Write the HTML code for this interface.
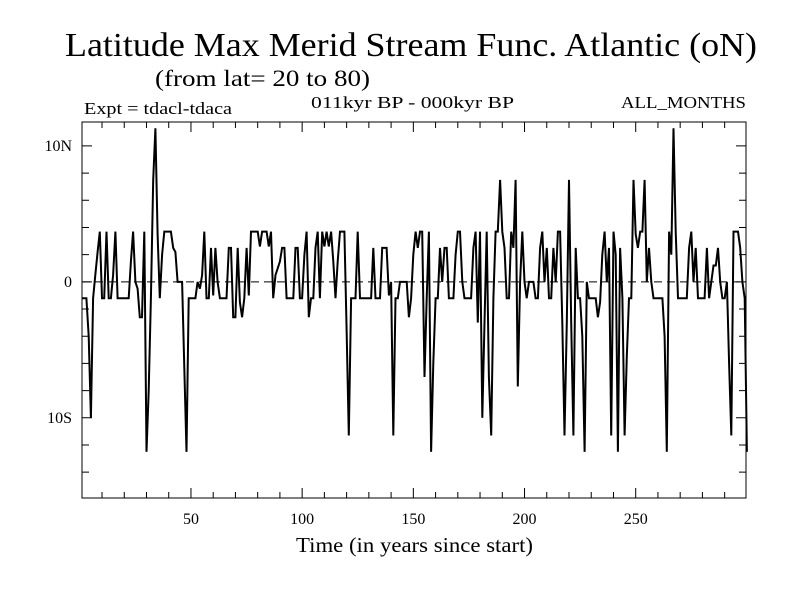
<!DOCTYPE html>
<html><head><meta charset="utf-8"><style>
body{margin:0;background:#fff}
svg text{font-family:"Liberation Serif",serif;fill:#000}
</style></head><body>
<svg width="800" height="600" viewBox="0 0 800 600" id="svg">
<text x="65" y="56" font-size="34" textLength="692" lengthAdjust="spacingAndGlyphs">Latitude Max Merid Stream Func. Atlantic (oN)</text>
<text x="155" y="86" font-size="23" textLength="215" lengthAdjust="spacingAndGlyphs">(from lat= 20 to 80)</text>
<text x="84" y="114" font-size="17" textLength="148" lengthAdjust="spacingAndGlyphs">Expt = tdacl-tdaca</text>
<text x="311" y="108" font-size="17" textLength="203" lengthAdjust="spacingAndGlyphs">011kyr BP - 000kyr BP</text>
<text x="621" y="108" font-size="17" textLength="125" lengthAdjust="spacingAndGlyphs">ALL_MONTHS</text>
<text x="296" y="552" font-size="21" textLength="237" lengthAdjust="spacingAndGlyphs">Time (in years since start)</text>
<g id="axes"></g>
<g id="series"></g>
<rect x="82" y="122" width="664" height="376" fill="none" stroke="#000" stroke-width="1"/>
</svg>
<script>
const xTicks=[50,100,150,200,250];
const yTickVals=[10,0,-10];
const yTickLabels=["10N","0","10S"];
const values=[-1.2,-1.2,-1.2,-4,-10,-1.2,0.5,2.2,3.7,-1.2,-1.2,3.7,-1.2,-1.2,0.5,3.7,-1.2,-1.2,-1.2,-1.2,-1.2,-1.2,1.5,3.7,0,-0.5,-2.6,-2.6,3.7,-12.5,-8,-1.2,7.5,11.3,3.5,-1.2,2,3.7,3.7,3.7,3.7,2.5,2.2,0,0,0,-6.3,-12.5,-1.2,-1.2,-1.2,-1.2,0,-0.5,0.5,3.7,-1.2,-1.2,2.5,-1,2.5,0,-1.2,-1.2,-1.2,-1.2,2.5,2.5,-2.6,-2.6,2.5,-1.5,-2.6,-1.2,2.5,-1,
3.7,3.7,3.7,3.7,2.6,3.7,3.7,3.7,2.6,3.7,-1.2,0.5,1,1.5,2.5,2.5,-1.2,-1.2,-1.2,-1.2,2.5,2.5,-1.2,-1.2,2,3.7,-2.6,-1.2,-1.2,2.5,3.7,-1.2,3.7,2.6,3.7,2.6,3.7,1.5,-1.2,1.5,3.7,3.7,3.7,-3.5,-11.3,-1.2,-1.2,-1.2,3.7,-1.2,-1.2,-1.2,-1.2,-1.2,-1.2,2.5,-1.2,-1.2,-1.2,2.5,2.5,2.5,-1,0,-11.3,-1.2,-1.2,0,0,0,0,-2.6,-1.2,2,
3.7,2.5,3.7,3.7,-7,-1.2,3.7,-12.5,-6,-1.2,-1.2,2.5,0,2.5,2.5,-1.2,-1.2,-1.2,2,3.7,3.7,0,-1.2,-1.2,-1.2,-1.2,2.5,3.7,-3,3.7,-10,-3,3.7,-7,-11.3,-1.2,3.7,3.7,7.5,3.7,2.5,-1.2,-1.2,3.7,2.5,7.5,-7.7,0,3.7,0,-1.2,0,0,0,-1.2,-1.2,2.5,3.7,0,2.5,-1.2,-1.2,2.5,0,3.7,3.7,-3,-11.3,-3,7.5,-3,-11.3,2.5,-1.2,-1.2,
-4,-12.5,0,-1.2,-1.2,-1.2,-1.2,-2.6,-1.5,2,3.7,0,2.5,-11.3,3.7,2,-12.5,2.5,-1.2,-11.3,-5.5,-1.2,-1.2,7.5,3.5,2.5,3.7,3.7,7.5,0,2.5,0,-1.2,-1.2,-1.2,-1.2,-1.2,-4,-12.5,3.7,2,11.3,3.7,-1.2,-1.2,-1.2,-1.2,-1.2,2.5,3.7,0,2.5,-1.2,-1.2,-1.2,-1.2,2.5,-1.2,0,1.2,1.2,2.5,0,-1.2,-1.2,0,-6,-11.3,3.7,3.7,3.7,2.5,0,-1.2,-12.5];
const X0=82,X1=746,Y0=122,Y1=498,xMin=1,xMax=299.6,yMin=-15.9,yMax=11.76;
const sx=v=>X0+(v-xMin)/(xMax-xMin)*(X1-X0);
const sy=v=>Y1-(v-yMin)/(yMax-yMin)*(Y1-Y0);
const NS="http://www.w3.org/2000/svg";
const axes=document.getElementById('axes'),series=document.getElementById('series');
function mk(t,a,p){const e=document.createElementNS(NS,t);for(const k in a)e.setAttribute(k,a[k]);p.appendChild(e);return e;}
let d="";
for(let v=10;v<300;v+=10){const x=sx(v),L=v%50===0?10:6;d+=`M${x},${Y1}v${-L}M${x},${Y0}v${L}`;}
for(let v=-14;v<=10;v+=2){const y=sy(v),L=v%10===0?10:7;d+=`M${X0},${y}h${L}M${X1},${y}h${-L}`;}
const tk=mk('path',{d:d,stroke:'#000','stroke-width':1,fill:'none'},axes);


xTicks.forEach(v=>{const t=mk('text',{x:sx(v),y:524,'font-size':16,'text-anchor':'middle'},axes);t.textContent=v;

});
yTickVals.forEach((v,i)=>{const t=mk('text',{x:72,y:sy(v)+5,'font-size':16,'text-anchor':'end'},axes);t.textContent=yTickLabels[i];

});
const z=mk('line',{x1:X0,x2:X1,y1:sy(0),y2:sy(0),stroke:'#000','stroke-width':1,'stroke-dasharray':'8,5'},axes);


const pts=values.map((v,i)=>sx(i+1).toFixed(1)+','+sy(v).toFixed(1)).join(' ');
const pl=mk('polyline',{points:pts,fill:'none',stroke:'#000','stroke-width':2,'stroke-linejoin':'miter'},series);


</script>
</body></html>
